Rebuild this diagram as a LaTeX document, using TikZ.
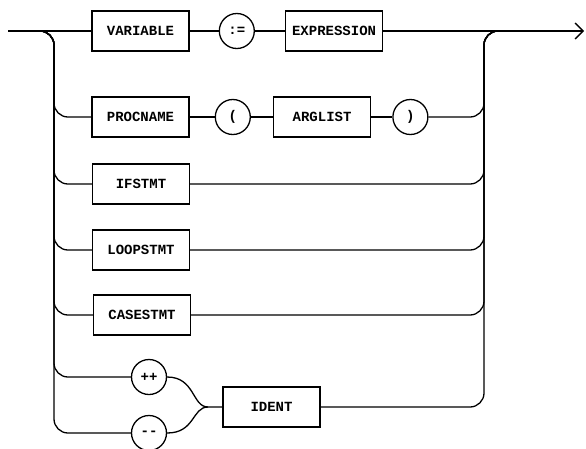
\documentclass[tikz,border=0pt]{standalone}
\usepackage{fontspec}
\setmonofont{Liberation Mono}
\usetikzlibrary{arrows.meta,positioning}

\begin{document}
\begin{tikzpicture}[
  x=1pt,y=-1pt,
  node distance=30pt,
  nonterm/.style={draw,line width=1.3pt,minimum width=97pt,minimum height=40pt,inner sep=0pt,font=\ttfamily\bfseries\fontsize{14}{14}\selectfont},
  term/.style={draw,circle,line width=1.3pt,minimum size=35pt,inner sep=0pt,font=\ttfamily\bfseries\fontsize{14}{14}\selectfont},
  flow/.style={line width=1.3pt},
  rail/.style={flow,rounded corners=14pt}
]
  \useasboundingbox (0,0) rectangle (586,448);
  % rails
  \coordinate (in) at (8,31);
  \coordinate (ljoin) at (30,31);
  \coordinate (ltop) at (54,31);
  \coordinate (rtop) at (484,31);
  \coordinate (rjoin) at (530,31);
  \coordinate (out) at (584,31);
  \coordinate (fork) at (208,407);

  \node[nonterm] (var) at (140.5,31) {VARIABLE};
  \node[term,right=29pt of var] (asg) {:=};
  \node[nonterm,right=30pt of asg] (expr) {EXPRESSION};

  \node[nonterm] (proc) at (140.5,117) {PROCNAME};
  \node[term,right=25pt of proc] (lpar) {(};
  \node[nonterm,right=22pt of lpar] (args) {ARGLIST};
  \node[term,right=21pt of args] (rpar) {)};

  \node[nonterm] (ifs) at (141,184) {IFSTMT};
  \node[nonterm] (loop) at (141,250) {LOOPSTMT};
  \node[nonterm] (cases) at (142,315) {CASESTMT};
  \node[term] (inc) at (149,377) {++};
  \node[term] (dec) at (149,433) {-{}-};
  \node[nonterm] (ident) at (271.5,407) {IDENT};

  \draw[flow] (in) -- (var);
  \draw[flow] (var) -- (asg);
  \draw[flow] (asg) -- (expr);
  \draw[flow,-{Straight Barb[length=8pt,width=16pt]}] (expr) -- (out);

  \draw[flow] (proc) -- (lpar);
  \draw[flow] (lpar) -- (args);
  \draw[flow] (args) -- (rpar);

  \foreach \n in {proc,ifs,loop,cases,inc,dec}
    \draw[rail] (ljoin) -| (ltop |- \n) -- (\n);
  \foreach \n in {rpar,ifs,loop,cases,ident}
    \draw[rail] (\n) -| (rtop) -- (rjoin);

  \draw[flow] (inc.east) .. controls +(28,0) and +(-16,0) .. (fork) -- (ident);
  \draw[flow] (dec.east) .. controls +(28,0) and +(-16,0) .. (fork);
\end{tikzpicture}
\end{document}
